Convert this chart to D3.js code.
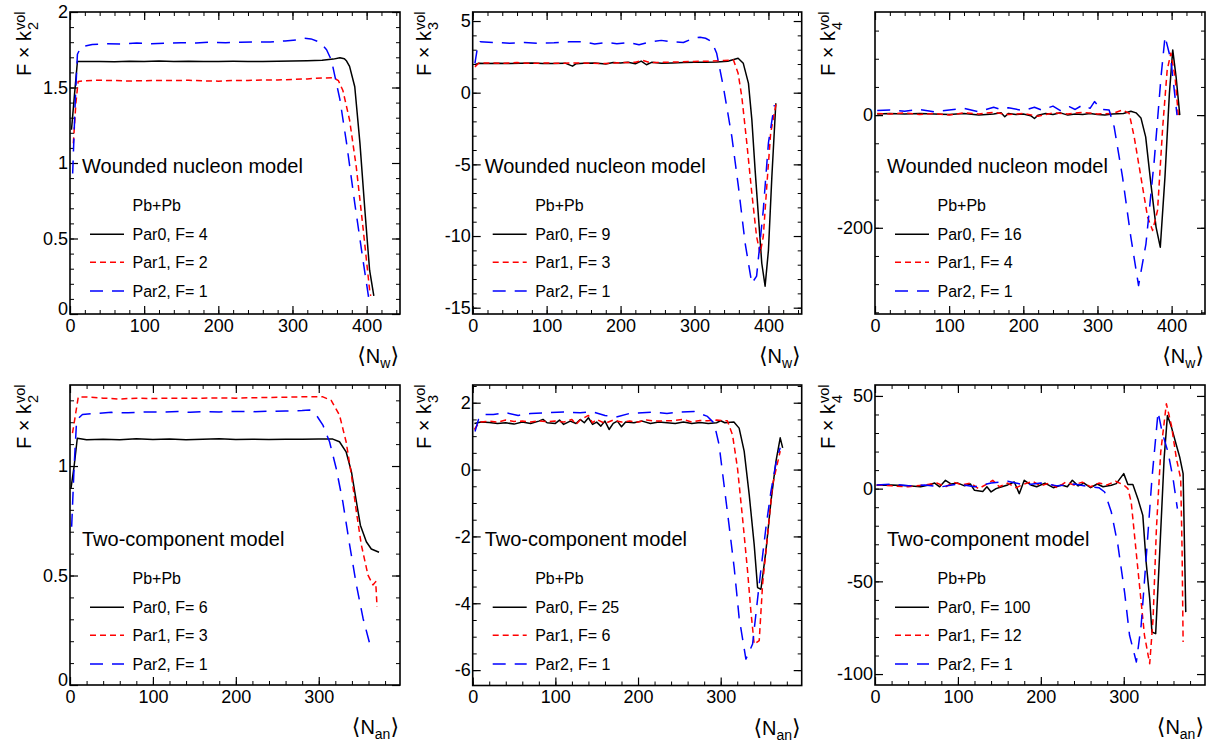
<!DOCTYPE html>
<html>
<head>
<meta charset="utf-8">
<script src="https://cdn.jsdelivr.net/npm/d3@7"></script>
<style>
  body { margin: 0; background: #fff; }
  svg { display: block; }
  text { font-family: "Liberation Sans", Arial, Helvetica, sans-serif; fill: #000; }
</style>
</head>
<body>
<div id="chart"></div>
<script>
const width = 1206, height = 742;

// ---- data: [<N>, F x k_n^vol] ----
// wounded nucleon model, k2
const wnK2Par0 = [[2,1.22],[6,1.45],[10,1.672],[20,1.672],[40,1.673],[60,1.671],[80,1.674],[100,1.673],[120,1.676],[140,1.672],[160,1.674],[180,1.672],[200,1.673],[220,1.674],[240,1.673],[260,1.672],[280,1.674],[300,1.675],[320,1.677],[340,1.68],[355,1.688],[364,1.697],[370,1.69],[373,1.675],[377,1.64],[384,1.505],[391,1.13],[397.6,0.69],[404,0.29],[409.7,0.12]];
const wnK2Par1 = [[4.5,1.13],[8,1.4],[11,1.54],[20,1.545],[40,1.548],[60,1.546],[80,1.543],[100,1.545],[120,1.547],[140,1.546],[160,1.548],[180,1.544],[200,1.542],[220,1.546],[240,1.547],[260,1.549],[280,1.55],[300,1.553],[320,1.557],[340,1.563],[355,1.565],[362,1.545],[368,1.48],[377,1.285],[386,0.975],[395,0.578],[404,0.16],[405.5,0.12]];
const wnK2Par2 = [[3.6,0.93],[7,1.4],[10,1.72],[15,1.77],[30,1.785],[50,1.79],[70,1.788],[90,1.795],[110,1.79],[130,1.793],[150,1.797],[170,1.795],[190,1.8],[210,1.797],[230,1.8],[250,1.802],[270,1.802],[290,1.808],[305,1.815],[315,1.826],[325,1.822],[337,1.8],[346,1.75],[352.6,1.68],[364,1.42],[373,1.13],[384,0.733],[395,0.36],[403,0.1]];

// wounded nucleon model, k3
const wnK3Par0 = [[3,1.95],[8,2.05],[20,2.03],[35,2.05],[50,2.03],[65,2.06],[80,2.08],[95,2.03],[110,2.04],[125,2.06],[135,1.85],[140,2.02],[150,2.05],[165,2.07],[180,2.0],[190,2.1],[200,2.08],[210,2.12],[220,2.02],[228,2.2],[235,1.95],[242,2.12],[255,2.05],[270,2.08],[285,2.1],[300,2.12],[315,2.12],[330,2.15],[345,2.2],[359,2.4],[366,2.05],[373,0.65],[377.6,-1.9],[382,-5.4],[386.5,-8.65],[391,-11.9],[395.5,-13.5],[400,-11.0],[404.6,-5.9],[410,-0.74]];
const wnK3Par1 = [[3,1.8],[8,2.05],[20,2.08],[40,2.05],[60,2.1],[80,2.05],[100,2.07],[120,2.05],[140,2.08],[160,2.05],[180,2.03],[200,2.1],[220,2.12],[230,2.25],[240,2.1],[260,2.12],[280,2.15],[300,2.18],[320,2.2],[340,2.25],[352.7,2.28],[359,1.35],[364,-0.28],[370.8,-3.53],[377.5,-7.0],[384,-10.05],[388.8,-11.2],[393,-10.05],[398.7,-5.86],[403,-2.83],[410.4,-0.74]];
const wnK3Par2 = [[3,2.05],[6,3.0],[10,3.55],[30,3.5],[50,3.45],[70,3.5],[90,3.45],[110,3.48],[130,3.55],[150,3.55],[165,3.4],[180,3.5],[195,3.42],[210,3.5],[225,3.35],[240,3.55],[255,3.65],[270,3.55],[285,3.5],[298.5,3.8],[307.6,3.87],[315,3.8],[323.4,3.56],[330,2.75],[339,0.42],[350.5,-3.07],[359.4,-6.56],[368.5,-10.5],[377.5,-13.3],[384,-12.8],[393,-8.2],[400,-3.5],[408,-0.86]];

// wounded nucleon model, k4
const wnK4Par0 = [[3,2],[20,3],[40,2],[60,3],[80,2],[100,1],[120,3],[140,0],[160,2],[170,4],[175,-3],[180,3],[190,1],[200,2],[210,-1],[215,-6],[220,0],[230,3],[240,1],[250,4],[260,0],[270,2],[280,1],[290,3],[300,1],[310,0],[320,2],[335,3],[345,7],[352,4],[358.6,-5],[365,-38.6],[372,-121.6],[379,-198.7],[384.7,-234.4],[391,-110],[397,38.6],[401.5,115.7],[406,68],[411,0]];
const wnK4Par1 = [[3,3],[20,2],[40,4],[60,1],[80,3],[100,0],[120,4],[140,2],[160,5],[180,1],[200,3],[220,-2],[240,4],[260,2],[280,5],[300,2],[320,3],[333.8,8.9],[342.8,3],[349.5,-38.6],[358.6,-110],[367.6,-181],[374.4,-204.7],[381,-169],[388,-20.8],[394,80],[399,110],[404.6,68],[409,0]];
const wnK4Par2 = [[3,8],[20,9],[40,7],[60,10],[80,6],[100,9],[120,12],[140,6],[160,14],[170,10],[180,13],[200,8],[215,14],[225,9],[240,16],[250,8],[262,15],[270,10],[280,18],[290,12],[296,24],[305,10],[315.7,9],[322.5,-20.8],[333.8,-110],[345,-216.6],[355.4,-302.6],[365.4,-228.4],[376.6,-80],[385.7,68],[391.1,139.4],[399,98],[407.3,0]];

// two-component model, k2
const tcK2Par0 = [[1.2,0.898],[5,1.0],[8.8,1.127],[20,1.12],[40,1.122],[60,1.12],[80,1.124],[100,1.121],[120,1.123],[140,1.12],[160,1.122],[180,1.124],[200,1.121],[220,1.122],[240,1.121],[260,1.122],[280,1.122],[300,1.123],[317,1.123],[325,1.111],[333,1.065],[339.4,0.974],[345.4,0.837],[350.2,0.73],[357.4,0.654],[363.4,0.621],[372.7,0.606]];
const tcK2Par1 = [[3,1.15],[6,1.22],[10,1.316],[20,1.315],[40,1.31],[60,1.306],[80,1.31],[100,1.308],[120,1.31],[140,1.309],[160,1.31],[180,1.311],[200,1.31],[220,1.312],[240,1.313],[260,1.314],[280,1.316],[305,1.316],[315,1.3],[325,1.233],[333,1.111],[339.4,0.959],[345.4,0.791],[351.4,0.639],[359.4,0.502],[365.4,0.457],[368.7,0.472],[370.3,0.358]];
const tcK2Par2 = [[2,0.723],[5,1.0],[8,1.21],[15,1.235],[30,1.24],[50,1.245],[70,1.243],[90,1.247],[110,1.246],[130,1.249],[145,1.245],[160,1.248],[180,1.247],[200,1.249],[220,1.248],[240,1.25],[260,1.251],[280,1.253],[289,1.256],[297,1.233],[305,1.187],[313,1.111],[321,0.99],[329,0.837],[337.3,0.639],[345.4,0.457],[353.4,0.305],[361.4,0.19]];

// two-component model, k3
const tcK3Par0 = [[2,1.38],[10,1.42],[20,1.41],[30,1.38],[40,1.4],[50,1.36],[60,1.42],[70,1.38],[80,1.45],[85,1.5],[90,1.4],[100,1.38],[105,1.48],[110,1.35],[118,1.45],[125,1.38],[130,1.5],[135,1.4],[140,1.55],[145,1.35],[150,1.42],[155,1.3],[160,1.45],[165,1.2],[170,1.38],[175,1.45],[180,1.28],[185,1.42],[195,1.4],[205,1.45],[215,1.38],[225,1.42],[235,1.4],[245,1.38],[255,1.42],[265,1.38],[275,1.41],[285,1.38],[295,1.4],[300,1.46],[305,1.4],[316,1.42],[322.3,1.24],[328.4,0.55],[334.5,-0.75],[340.5,-2.24],[344.6,-3.53],[348.7,-3.58],[354.7,-2.44],[360.8,-0.95],[366.9,0.25],[372,0.95],[375,0.65]];
const tcK3Par1 = [[2,1.2],[8,1.42],[20,1.45],[30,1.42],[40,1.48],[50,1.44],[60,1.45],[70,1.42],[80,1.46],[90,1.43],[100,1.45],[110,1.42],[120,1.5],[125,1.35],[130,1.48],[140,1.62],[145,1.4],[150,1.5],[160,1.38],[170,1.48],[180,1.42],[190,1.45],[200,1.42],[210,1.48],[220,1.45],[240,1.46],[255,1.5],[265,1.42],[275,1.47],[284,1.46],[295,1.48],[308,1.46],[314.3,1.04],[320.3,0.05],[326.4,-1.44],[332.5,-3.03],[336.5,-4.23],[340.5,-5.22],[346.6,-5.12],[350.7,-3.43],[356.8,-1.94],[362.8,-0.45],[372,0.55]];
const tcK3Par2 = [[2.8,1.14],[7,1.5],[12,1.65],[25,1.65],[40,1.7],[55,1.62],[70,1.68],[90,1.7],[110,1.72],[130,1.7],[145,1.73],[160,1.62],[175,1.58],[190,1.68],[205,1.7],[220,1.72],[235,1.68],[250,1.72],[267.7,1.74],[284,1.59],[292,1.39],[298,0.75],[304,-0.45],[310,-1.64],[316.3,-2.93],[322.3,-4.43],[330.5,-5.67],[338.6,-5.22],[346.6,-3.43],[354.7,-1.74],[360.8,-0.65],[368,0.35],[372,0.65]];

// two-component model, k4
const tcK4Par0 = [[2,1.8],[20,2],[40,1.5],[55,1],[65,2],[72,3],[78,1],[85,4.5],[92,2.5],[100,3],[108,1.5],[115,2.5],[120,-0.9],[130,-1.5],[135,1],[140,-1.8],[146,0],[152,0.9],[160,2],[168,3.6],[174,-2.7],[180,4.5],[188,2],[195,1],[205,3],[215,0.5],[225,2],[232,1],[238,4.5],[245,1.5],[252,3],[260,0.5],[268,2.5],[275,1],[285,1.8],[291,2.7],[300,8.1],[305,2.2],[311,2.2],[317,-5.4],[323,-14.4],[327,-39.6],[331.3,-59.3],[334,-77.3],[338.5,-78.2],[343.4,-34.2],[348.7,16.2],[352.7,39.5],[357.5,33.2],[363.5,23.4],[367.5,17],[371.6,8.1],[374.8,-66.6]];
const tcK4Par1 = [[2,2],[20,1.5],[40,1],[60,2],[75,3],[85,1],[95,3.5],[105,2],[115,3],[125,0],[135,2.5],[142,4.5],[150,1],[160,3],[170,0.5],[180,2.5],[190,4],[200,1.5],[210,3],[220,0.5],[230,3.5],[240,2],[250,3.5],[260,1],[270,3],[280,2],[290,4],[300,2],[305,0],[309,-7.2],[313,-25.2],[319,-52.2],[325,-79.1],[331.3,-94.4],[335.4,-70.1],[339.4,-21.6],[344.6,19.7],[351.4,45.8],[357.5,34.1],[363.5,16.2],[368.7,5.4],[370.4,-34.2],[371.6,-82.7]];
const tcK4Par2 = [[2,2],[20,2.5],[40,1.5],[60,2],[80,1],[100,2.5],[120,1],[140,3],[160,4],[180,2],[200,3],[220,1.5],[240,2.5],[260,1],[270,0.5],[277,-1.8],[285,-12.6],[293,-30.6],[301,-55.8],[307,-79.1],[315.2,-93.5],[321,-73.7],[327,-37.8],[334,5.4],[341.4,41.3],[346.3,30.5],[353.4,19.7],[359.5,5.4],[364.7,-10.8]];

// legend factors
const wnFactors = [[4, 2, 1], [9, 3, 1], [16, 4, 1]];
const tcFactors = [[6, 3, 1], [25, 6, 1], [100, 12, 1]];

// tick labels
const xTicksTop = [0, 100, 200, 300, 400];
const xTicksBottom = [0, 100, 200, 300];
const yTicksWnK2 = [0, 0.5, 1, 1.5, 2];
const yTicksWnK3 = [-15, -10, -5, 0, 5];
const yTicksWnK4 = [-200, 0];
const yTicksTcK2 = [0, 0.5, 1];
const yTicksTcK3 = [-6, -4, -2, 0, 2];
const yTicksTcK4 = [-100, -50, 0, 50];

const parNames = ["Par0", "Par1", "Par2"];
const seriesStyle = [
  { color: "#000000", dash: null },
  { color: "#ff0000", dash: "6 4" },
  { color: "#0000ff", dash: "13 9" }
];

const panels = [
  { box: [70, 12, 400, 314], xDom: [0, 445], yDom: [0, 2], xTicks: xTicksTop, yTicks: yTicksWnK2, yMinor: 0.1,
    order: "2", xSub: "w", model: "Wounded nucleon model", factors: wnFactors[0], series: [wnK2Par0, wnK2Par1, wnK2Par2], titleX: 31 },
  { box: [472.7, 12, 801.7, 314], xDom: [0, 445], yDom: [-15.44, 5.63], xTicks: xTicksTop, yTicks: yTicksWnK3, yMinor: 1,
    order: "3", xSub: "w", model: "Wounded nucleon model", factors: wnFactors[1], series: [wnK3Par0, wnK3Par1, wnK3Par2], titleX: 431 },
  { box: [875, 12, 1205, 314], xDom: [0, 445], yDom: [-353, 183], xTicks: xTicksTop, yTicks: yTicksWnK4, yMinor: 50,
    order: "4", xSub: "w", model: "Wounded nucleon model", factors: wnFactors[2], series: [wnK4Par0, wnK4Par1, wnK4Par2], titleX: 835 },
  { box: [70, 385, 400, 685], xDom: [0, 398], yDom: [0, 1.37], xTicks: xTicksBottom, yTicks: yTicksTcK2, yMinor: 0.1,
    order: "2", xSub: "an", model: "Two-component model", factors: tcFactors[0], series: [tcK2Par0, tcK2Par1, tcK2Par2], titleX: 31 },
  { box: [472.7, 385, 801.7, 685.5], xDom: [0, 398], yDom: [-6.46, 2.53], xTicks: xTicksBottom, yTicks: yTicksTcK3, yMinor: 0.5,
    order: "3", xSub: "an", model: "Two-component model", factors: tcFactors[1], series: [tcK3Par0, tcK3Par1, tcK3Par2], titleX: 431 },
  { box: [875, 385, 1205, 685], xDom: [0, 398], yDom: [-105.9, 55.9], xTicks: xTicksBottom, yTicks: yTicksTcK4, yMinor: 10,
    order: "4", xSub: "an", model: "Two-component model", factors: tcFactors[2], series: [tcK4Par0, tcK4Par1, tcK4Par2], titleX: 835 }
];

const svg = d3.select("#chart").append("svg")
  .attr("width", width).attr("height", height)
  .attr("viewBox", [0, 0, width, height]);

function minorTicks(dom, step) {
  const out = [];
  const start = Math.ceil(dom[0] / step - 1e-9);
  const end = Math.floor(dom[1] / step + 1e-9);
  for (let i = start; i <= end; i++) out.push(+(i * step).toFixed(6));
  return out;
}

panels.forEach((p, pi) => {
  const [l, t, r, b] = p.box;
  const x = d3.scaleLinear().domain(p.xDom).range([l, r]);
  const y = d3.scaleLinear().domain(p.yDom).range([b, t]);
  const g = svg.append("g");

  // clip
  g.append("clipPath").attr("id", "clip" + pi)
    .append("rect").attr("x", l).attr("y", t).attr("width", r - l).attr("height", b - t);

  const xMinor = minorTicks(p.xDom, 20);
  const yMinor = minorTicks(p.yDom, p.yMinor);

  // minor ticks on all four sides
  const minorAxes = [
    [d3.axisBottom(x).tickValues(xMinor), `translate(0,${b})`],
    [d3.axisTop(x).tickValues(xMinor), `translate(0,${t})`],
    [d3.axisLeft(y).tickValues(yMinor), `translate(${l},0)`],
    [d3.axisRight(y).tickValues(yMinor), `translate(${r},0)`]
  ];
  minorAxes.forEach(([ax, tr]) => {
    g.append("g").attr("transform", tr)
      .call(ax.tickSizeInner(-4).tickSizeOuter(0).tickFormat(""))
      .call(s => s.select(".domain").remove())
      .call(s => s.selectAll("line").attr("stroke", "#000").attr("stroke-width", 1));
  });

  // major ticks with labels
  g.append("g").attr("transform", `translate(0,${b})`)
    .call(d3.axisBottom(x).tickValues(p.xTicks).tickSizeInner(-8).tickSizeOuter(0).tickPadding(5).tickFormat(d => String(d)))
    .call(s => s.select(".domain").remove())
    .call(s => s.selectAll("line").attr("stroke", "#000").attr("stroke-width", 1.2))
    .call(s => s.selectAll("text").attr("font-size", 18).attr("font-family", "Liberation Sans, Arial, sans-serif").attr("fill", "#000"));
  g.append("g").attr("transform", `translate(0,${t})`)
    .call(d3.axisTop(x).tickValues(p.xTicks).tickSizeInner(-8).tickSizeOuter(0).tickFormat(""))
    .call(s => s.select(".domain").remove())
    .call(s => s.selectAll("line").attr("stroke", "#000").attr("stroke-width", 1.2));
  g.append("g").attr("transform", `translate(${l},0)`)
    .call(d3.axisLeft(y).tickValues(p.yTicks).tickSizeInner(-8).tickSizeOuter(0).tickPadding(2).tickFormat(d => String(d)))
    .call(s => s.select(".domain").remove())
    .call(s => s.selectAll("line").attr("stroke", "#000").attr("stroke-width", 1.2))
    .call(s => s.selectAll("text").attr("font-size", 18).attr("font-family", "Liberation Sans, Arial, sans-serif").attr("fill", "#000")
      // a label sitting on the bottom edge is lifted a little so it clears the x label "0"
      .attr("dy", d => (b - y(d) < 2 ? "0.05em" : "0.32em")));
  g.append("g").attr("transform", `translate(${r},0)`)
    .call(d3.axisRight(y).tickValues(p.yTicks).tickSizeInner(-8).tickSizeOuter(0).tickFormat(""))
    .call(s => s.select(".domain").remove())
    .call(s => s.selectAll("line").attr("stroke", "#000").attr("stroke-width", 1.2));

  // curves
  const line = d3.line().x(d => x(d[0])).y(d => y(d[1]));
  const cg = g.append("g").attr("clip-path", `url(#clip${pi})`);
  p.series.forEach((s, si) => {
    cg.append("path")
      .datum(s)
      .attr("d", line)
      .attr("fill", "none")
      .attr("stroke", seriesStyle[si].color)
      .attr("stroke-width", 1.5)
      .attr("stroke-linejoin", "round")
      .attr("stroke-dasharray", seriesStyle[si].dash);
  });

  // frame
  g.append("rect")
    .attr("x", l).attr("y", t).attr("width", r - l).attr("height", b - t)
    .attr("fill", "none").attr("stroke", "#000").attr("stroke-width", 1.6);

  // model label
  g.append("text").attr("x", l + 12).attr("y", t + 161)
    .attr("font-size", 20).text(p.model);

  // legend
  g.append("text").attr("x", l + 62.5).attr("y", t + 199)
    .attr("font-size", 16).text("Pb+Pb");
  const legY = [222.3, 250.3, 279];
  parNames.forEach((nm, i) => {
    g.append("line")
      .attr("x1", l + 20).attr("x2", l + 54)
      .attr("y1", t + legY[i]).attr("y2", t + legY[i])
      .attr("stroke", seriesStyle[i].color).attr("stroke-width", 1.5)
      .attr("stroke-dasharray", seriesStyle[i].dash);
    g.append("text").attr("x", l + 62.5).attr("y", t + legY[i] + 5.8)
      .attr("font-size", 16).text(`${nm}, F= ${p.factors[i]}`);
  });

  // y title: F x k_n^vol
  const yt = g.append("g").attr("transform", `translate(${p.titleX},${t + 19}) rotate(-90)`);
  yt.append("text").attr("text-anchor", "end").attr("font-size", 20).text("F \u00d7 k");
  yt.append("text").attr("x", 1).attr("y", 7).attr("font-size", 14.5).text(p.order);
  yt.append("text").attr("x", 1).attr("y", -6).attr("font-size", 14.5).text("vol");

  // x title: <N_w> / <N_an>
  const xt = g.append("text").attr("x", r - 1).attr("y", b + 49)
    .attr("text-anchor", "end").attr("font-size", 20);
  xt.append("tspan").attr("font-family", "DejaVu Sans").attr("font-size", 22).text("\u27e8");
  xt.append("tspan").text("N");
  xt.append("tspan").attr("font-size", 14).attr("dy", 5).text(p.xSub);
  xt.append("tspan").attr("dy", -5).attr("font-family", "DejaVu Sans").attr("font-size", 22).text("\u27e9");
});
</script>
</body>
</html>
